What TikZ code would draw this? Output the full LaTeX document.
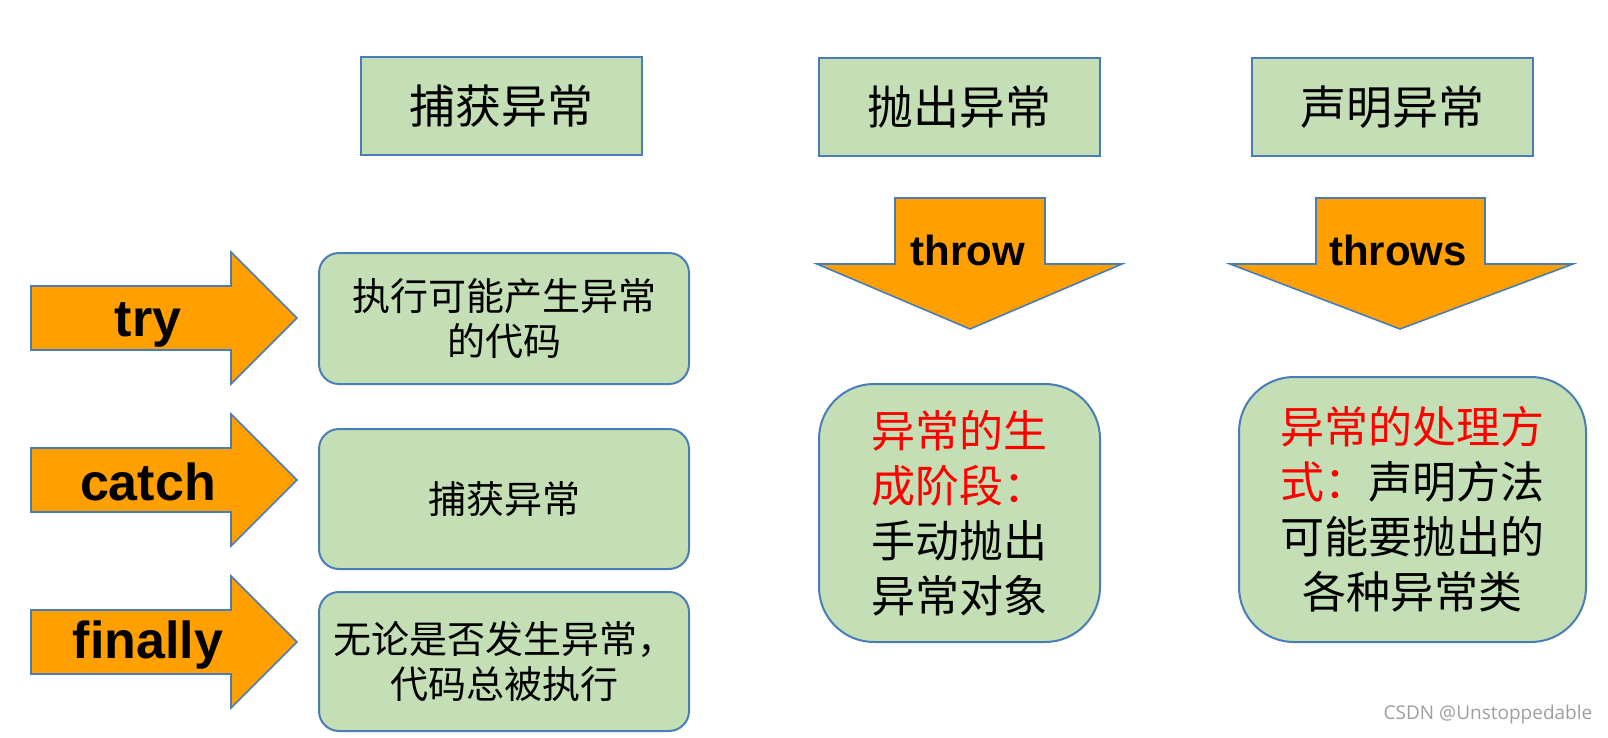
\documentclass[tikz,border=0pt]{standalone}
\usepackage{fontspec}
\setmainfont{Liberation Sans}
\newfontfamily\cjk{Noto Sans CJK SC}
\newfontfamily\wmfont{Open Sans}
\definecolor{orng}{HTML}{FFA000}
\definecolor{grn}{HTML}{C4DFB5}
\definecolor{edgeblue}{HTML}{4A7DB8}
\begin{document}
\begin{tikzpicture}[x=1pt,y=-1pt,
 boxline/.style={draw=edgeblue, line width=2pt, fill=grn, inner sep=0pt},
 topbox/.style={boxline, minimum width=281pt, minimum height=98pt, font=\cjk\fontsize{46}{55}\selectfont},
 leftbox/.style={boxline, rounded corners=20pt, minimum width=370pt, align=center, font=\cjk\fontsize{38}{45}\selectfont},
 rightbox/.style={boxline, rounded corners=55pt, align=center, font=\cjk\fontsize{44}{55}\selectfont},
 arrowshape/.style={draw=edgeblue, line width=1.6pt, fill=orng, line join=miter},
 arrowtext/.style={inner sep=0pt, font=\bfseries\fontsize{52}{60}\selectfont},
 downtext/.style={inner sep=0pt, font=\bfseries\fontsize{42}{50}\selectfont},
 wm/.style={inner sep=0pt, text=black!38, font=\wmfont\fontsize{19}{22}\selectfont}]
\useasboundingbox (0,0) rectangle (1608,737);

% top boxes
\node[topbox] (t1) at (501.5,106) {捕获异常};
\node[topbox] (t2) at (959.5,107) {抛出异常};
\node[topbox] (t3) at (1392.5,107) {声明异常};

% left arrows
\foreach \c/\t/\n/\s in {318/try/a1/7, 480/catch/a2/2, 642/finally/a3/3}{
  \draw[arrowshape] (31,\c-32) -- (231,\c-32) -- (231,\c-66) -- (297,\c)
     -- (231,\c+66) -- (231,\c+32) -- (31,\c+32) -- cycle;
  \node[arrowtext] (\n) at (148,\c+\s) {\t};
}

% left boxes
\node[leftbox, minimum height=131pt] (b1) at (504,318.5) {执行可能产生异常\\的代码};
\node[leftbox, minimum height=140pt] (b2) at (504,499) {捕获异常};
\node[leftbox, minimum height=139pt] (b3) at (504,661.5) {无论是否发生异常，\\代码总被执行};

% down arrows
\draw[arrowshape] (895,198) -- (1045,198) -- (1045,264) -- (1122,264) -- (970,329)
   -- (817,264) -- (895,264) -- cycle;
\node[downtext] (d1) at (968,250) {throw};
\draw[arrowshape] (1316,198) -- (1485,198) -- (1485,264) -- (1573,264) -- (1400,329)
   -- (1230,264) -- (1316,264) -- cycle;
\node[downtext] (d2) at (1398,250) {throws};

% right boxes
\node[rightbox, minimum width=281pt, minimum height=258pt] (r1) at (959.5,513)
  {\textcolor{red}{异常的生}\\\textcolor{red}{成阶段：}\\手动抛出\\异常对象};
\node[rightbox, minimum width=347pt, minimum height=265pt] (r2) at (1412.5,509.5)
  {\textcolor{red}{异常的处理方}\\\textcolor{red}{式：}声明方法\\可能要抛出的\\各种异常类};

% watermark
\node[wm] (w) at (1488,715) {CSDN @Unstoppedable};
\end{tikzpicture}
\end{document}
